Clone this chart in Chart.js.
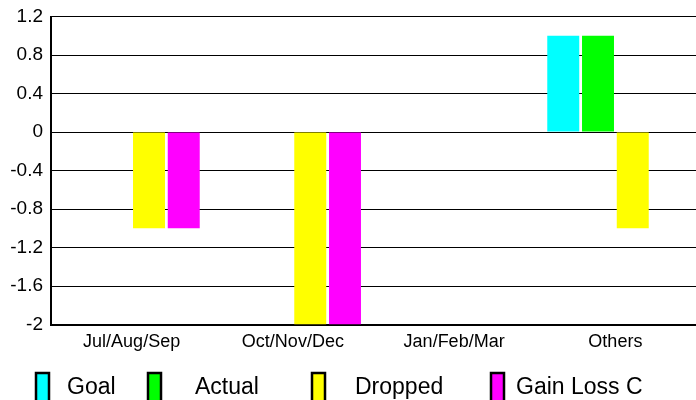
<!DOCTYPE html>
<html lang="en">
<head>
    <meta charset="UTF-8">
    <title>Quarterly chart</title>
    <script src="https://cdn.jsdelivr.net/npm/chart.js"></script>
    <style>
        html, body { margin: 0; padding: 0; background: #fff; }
        #wrap { width: 696px; height: 400px; }
    </style>
</head>
<body>
    <div id="wrap"><canvas id="quarterChart"></canvas></div>

    <script>
        // datos del grafico
        const categories = ['Jul/Aug/Sep', 'Oct/Nov/Dec', 'Jan/Feb/Mar', 'Others'];
        const seriesNames = ['Goal', 'Actual', 'Dropped', 'Gain Loss C'];
        const goal = [0, 0, 0, 1];
        const actual = [0, 0, 0, 1];
        const dropped = [-1, -2, 0, -1];
        const gainLoss = [-1, -2, 0, 0];
        const yTicks = [-2, -1.6, -1.2, -0.8, -0.4, 0, 0.4, 0.8, 1.2];

        const colors = ['#00ffff', '#00ff00', '#ffff00', '#ff00ff'];
        const values = [goal, actual, dropped, gainLoss];

        // leyenda dibujada a mano, posiciones como en la imagen
        const legendBoxX = [36, 148, 312, 491];
        const legendTextX = [67, 195, 355, 516];

        const legendPlugin = {
            id: 'bottomLegend',
            afterDraw(chart) {
                const ctx = chart.ctx;
                ctx.save();
                ctx.font = '23px "Liberation Sans", Arial, sans-serif';
                ctx.textBaseline = 'alphabetic';
                chart.data.datasets.forEach((ds, i) => {
                    ctx.fillStyle = ds.backgroundColor;
                    ctx.fillRect(legendBoxX[i], 373, 13, 30);
                    ctx.strokeStyle = '#000';
                    ctx.lineWidth = 2.5;
                    ctx.strokeRect(legendBoxX[i], 373, 13, 30);
                    ctx.fillStyle = '#000';
                    ctx.fillText(ds.label, legendTextX[i], 394);
                });
                ctx.restore();
            }
        };

        const ctx = document.getElementById('quarterChart').getContext('2d');
        window.myChart = new Chart(ctx, {
            type: 'bar',
            data: {
                labels: categories,
                datasets: seriesNames.map((name, i) => ({
                    label: name,
                    data: values[i],
                    backgroundColor: colors[i],
                    borderWidth: 0,
                    categoryPercentage: 0.862,
                    barPercentage: 0.92
                }))
            },
            options: {
                responsive: true,
                maintainAspectRatio: false,
                animation: false,
                layout: {
                    padding: { top: 16.5, right: 0, left: 0, bottom: 45 }
                },
                plugins: {
                    legend: { display: false },
                    tooltip: { enabled: false }
                },
                scales: {
                    x: {
                        grid: { display: false, drawTicks: false },
                        border: { display: true, color: '#000', width: 2 },
                        ticks: {
                            color: '#000',
                            padding: 7,
                            font: { family: '"Liberation Sans", Arial, sans-serif', size: 18 }
                        },
                        afterFit(scale) {
                            scale.height = 30.5;
                            scale.paddingLeft = 0;
                            scale.paddingRight = 0;
                        }
                    },
                    y: {
                        min: -2,
                        max: 1.2,
                        afterBuildTicks(scale) {
                            scale.ticks = yTicks.map(v => ({ value: v }));
                        },
                        grid: { color: '#000', lineWidth: 1, drawTicks: false },
                        border: { display: true, color: '#000', width: 2 },
                        ticks: {
                            color: '#000',
                            padding: 8,
                            font: { family: '"Liberation Sans", Arial, sans-serif', size: 19 },
                            callback: v => String(Number(Number(v).toFixed(1)))
                        },
                        afterFit(scale) {
                            scale.width = 51;
                            scale.paddingTop = 0;
                            scale.paddingBottom = 0;
                        }
                    }
                }
            },
            plugins: [legendPlugin]
        });
    </script>
</body>
</html>
